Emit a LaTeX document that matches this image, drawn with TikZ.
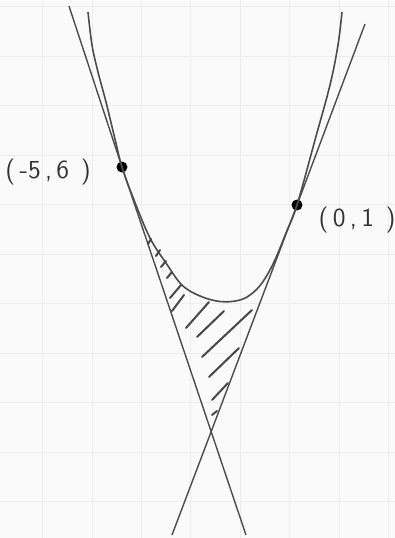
\documentclass[tikz,border=0pt]{standalone}
\usepackage{tikz}

\begin{document}
\begin{tikzpicture}[x=0.5pt, y=-0.5pt,
        gridline/.style = {draw=black!7, line width=0.5pt},
        pen/.style = {draw=black!70, line width=0.7pt},
        hatch/.style = {draw=black!72, line width=1pt, line cap=round},
        dot/.style = {fill=black, circle, inner sep=0pt, minimum size=5.5pt},
        coordlabel/.style = {font=\sffamily\fontsize{13}{15}\selectfont, text=black!80, inner sep=0pt}]
            \fill[black!2] (0,0) rectangle (395,538);
            \useasboundingbox (0,0) rectangle (395,538);

            \foreach \i in {0,...,7}
                \draw[gridline] ({42.7+49.4*\i},0) -- ({42.7+49.4*\i},538);
            \foreach \j in {0,...,10}
                \draw[gridline] (0,{6.8+49.5*\j}) -- (395,{6.8+49.5*\j});

            \node[dot] (P) at (122,167) {};
            \node[dot] (Q) at (297,205) {};

            \node[coordlabel] (Plabel) at (48,172) {(\,-5\,,\,6\;\,)};
            \node[coordlabel] (Qlabel) at (357,220) {(\,0\,,\,1\;\,)};

            \coordinate (Atop) at (69,6);
            \coordinate (Abot) at (246,535);
            \coordinate (Btop) at (365,24);
            \coordinate (Bbot) at (172,535);

            \draw[pen] (Atop) -- (P.center) -- (Abot);
            \draw[pen] (Btop) -- (Q.center) -- (Bbot);

            \draw[pen, line width=0.8pt] plot[smooth, tension=0.6] coordinates {
                (88,12) (92,45) (98,72) (106,102) (114,135) (122,167)
                (134,200) (150,238) (166,263) (182,285) (200,296) (220,301.5)
                (238,300.5) (250,295) (262,283) (274,262) (286,233) (297,205)
                (315,140) (330,85) (338,45) (342,12)};

            \foreach \ax/\ay/\bx/\by in {148/244/151/239, 156/256/160/250,
                    161/267/166/261, 167/278/172/272, 170/298/181/285,
                    172/311/184/295, 186/328/209/302, 197/337/224/311,
                    202/357/252/310, 209/377/239/348, 212/400/228/383,
                    212/415/217/411}
                \draw[hatch] (\ax,\ay) -- (\bx,\by);
        \end{tikzpicture}
\end{document}
